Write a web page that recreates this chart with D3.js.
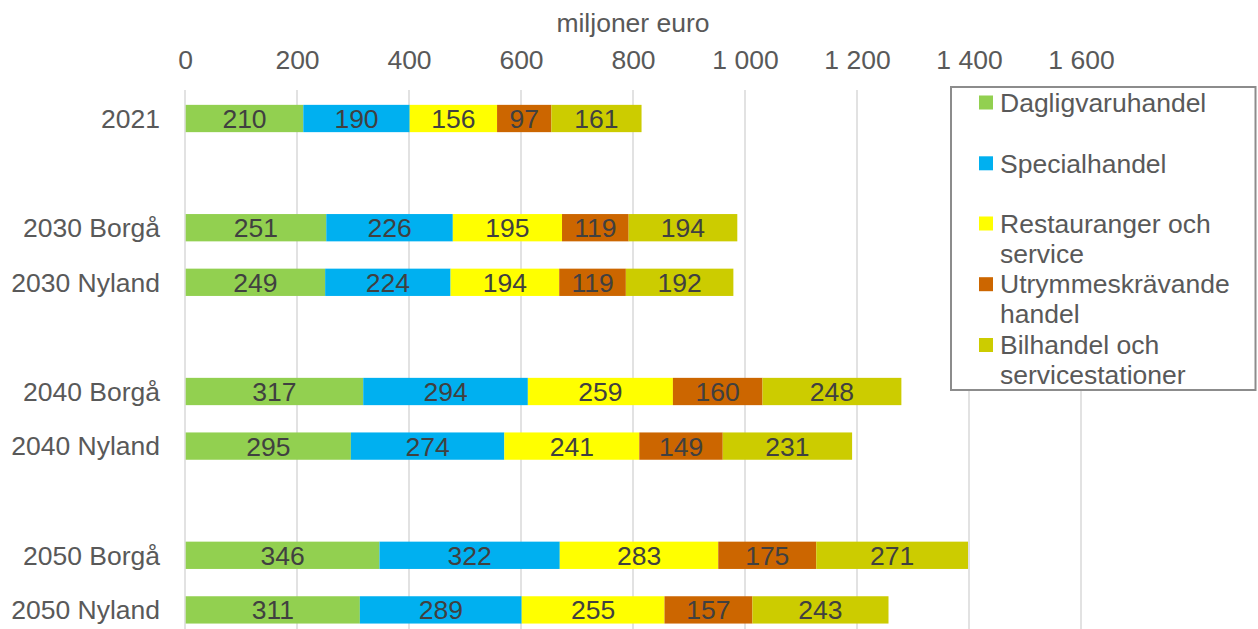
<!DOCTYPE html>
<html>
<head>
<meta charset="utf-8">
<script src="https://cdn.jsdelivr.net/npm/d3@7"></script>
<style>
  html, body { margin: 0; padding: 0; background: #fff; }
  svg { display: block; font-family: "Liberation Sans", Arial, sans-serif; }
</style>
</head>
<body>
<svg id="chart" width="1258" height="629"></svg>
<script>
// Row labels; empty strings are spacer rows between the year groups
const categories = ["2021", "", "2030 Borgå", "2030 Nyland", "", "2040 Borgå", "2040 Nyland", "", "2050 Borgå", "2050 Nyland"];

const seriesNames = ["Dagligvaruhandel", "Specialhandel", "Restauranger och service", "Utrymmeskrävande handel", "Bilhandel och servicestationer"];
const legendLines = [["Dagligvaruhandel"], ["Specialhandel"], ["Restauranger och", "service"], ["Utrymmeskrävande", "handel"], ["Bilhandel och", "servicestationer"]];
const seriesColors = ["#92D050", "#00B0F0", "#FFFF00", "#CC6600", "#CCCC00"];

// Values in million euro, one entry per row (null for spacer rows)
const dagligvaruhandel = [210, null, 251, 249, null, 317, 295, null, 346, 311];
const specialhandel    = [190, null, 226, 224, null, 294, 274, null, 322, 289];
const restauranger     = [156, null, 195, 194, null, 259, 241, null, 283, 255];
const utrymmeskravande = [97,  null, 119, 119, null, 160, 149, null, 175, 157];
const bilhandel        = [161, null, 194, 192, null, 248, 231, null, 271, 243];

const tickValues = [0, 200, 400, 600, 800, 1000, 1200, 1400, 1600];
const axisTitle = "miljoner euro";

const seriesValues = [dagligvaruhandel, specialhandel, restauranger, utrymmeskravande, bilhandel];

const svg = d3.select("#chart");
const FONT = 26.5;

const x = d3.scaleLinear().domain([0, 1600]).range([185, 1081]);
const y = d3.scaleBand()
  .domain(d3.range(categories.length))
  .range([91.2, 637.2])
  .paddingInner(0.5)
  .paddingOuter(0.25);

// Table rows for the stack
const table = categories.map((c, i) => {
  const row = { idx: i, cat: c };
  seriesNames.forEach((s, j) => { row[s] = seriesValues[j][i] || 0; });
  return row;
}).filter(r => r.cat !== "");

const stacked = d3.stack().keys(seriesNames)(table);

// Vertical gridlines
svg.append("g")
  .selectAll("line")
  .data(tickValues)
  .join("line")
  .attr("x1", d => x(d)).attr("x2", d => x(d))
  .attr("y1", 90).attr("y2", 640)
  .attr("stroke", "#D9D9D9")
  .attr("stroke-width", 1.5);

// Top axis tick labels with space as thousands separator
const fmt = d3.formatLocale({ decimal: ",", thousands: " ", grouping: [3], currency: ["", " €"] }).format(",d");
const xAxis = d3.axisTop(x).tickValues(tickValues).tickFormat(fmt).tickSize(0).tickPadding(0);
const gx = svg.append("g").attr("transform", "translate(0,69)").call(xAxis);
gx.select(".domain").remove();
gx.selectAll("text")
  .attr("font-size", FONT)
  .attr("font-family", "Liberation Sans, Arial, sans-serif")
  .attr("fill", "#595959")
  .attr("dy", 0);

// Axis title
svg.append("text")
  .attr("x", (x(0) + x(1600)) / 2)
  .attr("y", 32)
  .attr("text-anchor", "middle")
  .attr("font-size", FONT)
  .attr("fill", "#595959")
  .text(axisTitle);

// Category labels
const yAxis = d3.axisLeft(y).tickFormat(i => categories[i]).tickSize(0).tickPadding(0);
const gy = svg.append("g").attr("transform", "translate(160,0)").call(yAxis);
gy.select(".domain").remove();
gy.selectAll("text")
  .attr("font-size", FONT)
  .attr("font-family", "Liberation Sans, Arial, sans-serif")
  .attr("fill", "#595959")
  .attr("dy", "0.35em");

// Stacked bars
const layers = svg.append("g")
  .selectAll("g")
  .data(stacked)
  .join("g")
  .attr("fill", (d, i) => seriesColors[i]);

layers.selectAll("rect")
  .data(d => d)
  .join("rect")
  .attr("x", d => x(d[0]) + 0.7)
  .attr("y", d => y(d.data.idx))
  .attr("width", d => x(d[1]) - x(d[0]))
  .attr("height", y.bandwidth());

// Value labels centred in each segment
layers.selectAll("text")
  .data(d => d.map(p => ({ p, key: d.key })))
  .join("text")
  .attr("x", d => (x(d.p[0]) + x(d.p[1])) / 2 + 0.7)
  .attr("y", d => y(d.p.data.idx) + y.bandwidth() / 2)
  .attr("dy", "0.36em")
  .attr("text-anchor", "middle")
  .attr("font-size", FONT)
  .attr("fill", "#404040")
  .text(d => d.p.data[d.key]);

// Legend
const legend = svg.append("g");
legend.append("rect")
  .attr("x", 951).attr("y", 87)
  .attr("width", 304.5).attr("height", 303)
  .attr("fill", "#fff")
  .attr("stroke", "#8c8c8c")
  .attr("stroke-width", 2);

const entryY = [102.5, 163.3, 223.5, 284.2, 345];
const items = legend.selectAll("g.item")
  .data(seriesNames)
  .join("g")
  .attr("class", "item");

items.append("rect")
  .attr("x", 979)
  .attr("y", (d, i) => entryY[i] - 7)
  .attr("width", 14).attr("height", 14)
  .attr("fill", (d, i) => seriesColors[i]);

items.append("text")
  .attr("font-size", FONT)
  .attr("fill", "#595959")
  .selectAll("tspan")
  .data((d, i) => legendLines[i].map((t, k) => ({ t, k, i })))
  .join("tspan")
  .attr("x", 1000)
  .attr("y", d => entryY[d.i] + d.k * 30)
  .attr("dy", "0.35em")
  .text(d => d.t);
</script>
</body>
</html>
